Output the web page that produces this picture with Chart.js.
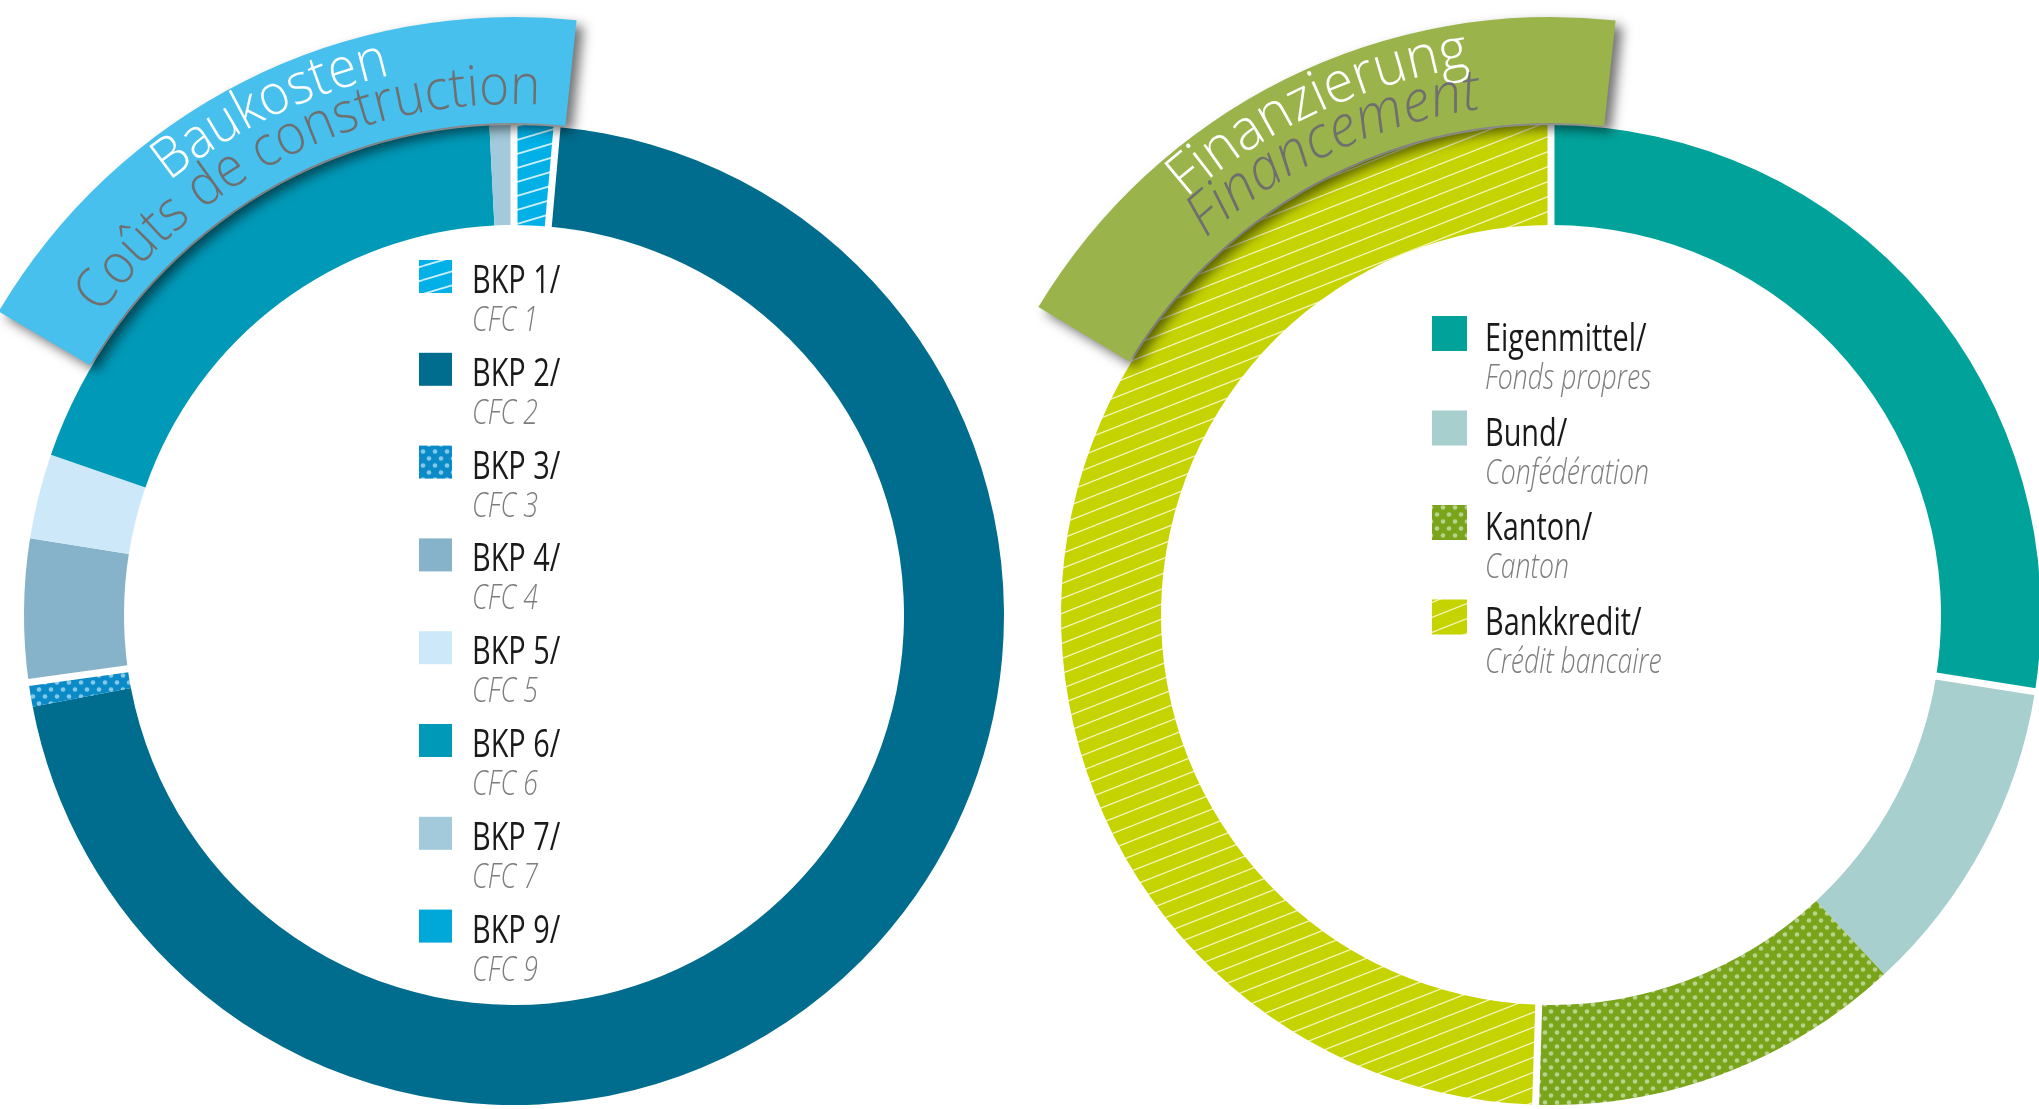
<!DOCTYPE html>
<html>
<head>
<meta charset="utf-8">
<script src="https://cdn.jsdelivr.net/npm/chart.js"></script>
<style>
  html, body { margin: 0; padding: 0; background: #fff; overflow: hidden; }
  #wrap { position: relative; width: 2039px; height: 1109px; overflow: hidden; }
  canvas { position: absolute; top: 0; }
  #baukosten { left: 0; }
  #finanzierung { left: 1020px; }
</style>
</head>
<body>
<div id="wrap">
  <canvas id="baukosten" width="1020" height="1109"></canvas>
  <canvas id="finanzierung" width="1024" height="1109"></canvas>
</div>
<script>
// Baukosten / Coûts de construction (Anteile in %)
const bkpLabels = ['BKP 1/', 'BKP 2/', 'BKP 3/', 'BKP 4/', 'BKP 5/', 'BKP 6/', 'BKP 7/', 'BKP 9/'];
const cfcLabels = ['CFC 1', 'CFC 2', 'CFC 3', 'CFC 4', 'CFC 5', 'CFC 6', 'CFC 7', 'CFC 9'];
const bkpWerte = [1.4, 70.6, 0.8, 4.7, 2.8, 18.9, 0.8, 0];

// Finanzierung / Financement (Anteile in %)
const finLabels = ['Eigenmittel/', 'Bund/', 'Kanton/', 'Bankkredit/'];
const finLabelsFr = ['Fonds propres', 'Confédération', 'Canton', 'Crédit bancaire'];
const finWerte = [27.5, 10.6, 12.4, 49.5];

// Titel auf den Bändern
const titelBau = ['Baukosten', 'Coûts de construction'];
const titelFin = ['Finanzierung', 'Financement'];

// Muster für schraffierte und gepunktete Segmente
function schraffur(grund, linie, h, steigung, lw) {
  const w = Math.round(h / steigung);
  const c = document.createElement('canvas');
  c.width = w; c.height = h;
  const g = c.getContext('2d');
  g.fillStyle = grund; g.fillRect(0, 0, w, h);
  g.strokeStyle = linie; g.lineWidth = lw;
  for (let k = -1; k <= 1; k++) {
    g.beginPath();
    g.moveTo(0, h + k * h);
    g.lineTo(w, k * h);
    g.stroke();
  }
  return g.createPattern(c, 'repeat');
}

function punkte(grund, punkt) {
  const c = document.createElement('canvas');
  c.width = 12; c.height = 14;
  const g = c.getContext('2d');
  g.fillStyle = grund; g.fillRect(0, 0, 12, 14);
  g.fillStyle = punkt;
  [[3, 3.5], [9, 10.5]].forEach(([x, y]) => {
    g.beginPath(); g.arc(x, y, 2.3, 0, Math.PI * 2); g.fill();
  });
  return g.createPattern(c, 'repeat');
}

const bkpFarben = [
  schraffur('#00b0e6', 'rgba(255,255,255,0.8)', 14, 0.3, 1.8),
  '#006c8e',
  punkte('#0a8bc8', '#86c8e8'),
  '#86b3c9',
  '#cde9f9',
  '#0099b8',
  '#a2cadb',
  '#00a8d9'
];
const finFarben = [
  '#00a29a',
  '#a6cfcd',
  punkte('#7aa51a', '#b8d28f'),
  schraffur('#c5d300', 'rgba(250,250,215,0.85)', 15, 0.39, 1.3)
];

const rad = d => (d - 90) * Math.PI / 180;

// Text entlang eines Kreisbogens
function bogenText(ctx, cx, cy, text, r, startGrad, font, farbe, sx) {
  ctx.save();
  ctx.font = font;
  ctx.fillStyle = farbe;
  ctx.textAlign = 'center';
  ctx.textBaseline = 'alphabetic';
  let a = startGrad * Math.PI / 180;
  for (const ch of text) {
    const w = ctx.measureText(ch).width * sx;
    ctx.save();
    ctx.translate(cx, cy);
    ctx.rotate(a + w / 2 / r);
    ctx.translate(0, -r);
    ctx.scale(sx, 1);
    ctx.fillText(ch, 0, 0);
    ctx.restore();
    a += w / r;
  }
  ctx.restore();
}

function ringDeko(cfg) {
  return {
    id: 'ringDeko',
    afterDatasetsDraw(chart) {
      const ctx = chart.ctx;
      const arcs = chart.getDatasetMeta(0).data;
      const cx = arcs[0].x, cy = arcs[0].y;
      const rIn = arcs[0].innerRadius, rOut = arcs[0].outerRadius;

      // weisse Fugen zwischen einzelnen Segmenten
      ctx.save();
      ctx.strokeStyle = '#fff';
      ctx.lineWidth = 7;
      cfg.fugen.forEach(i => {
        const a = arcs[i].startAngle;
        ctx.beginPath();
        ctx.moveTo(cx + Math.cos(a) * (rIn - 2), cy + Math.sin(a) * (rIn - 2));
        ctx.lineTo(cx + Math.cos(a) * (rOut + 2), cy + Math.sin(a) * (rOut + 2));
        ctx.stroke();
      });
      ctx.restore();

      // Titelband mit Schatten
      const r1 = rOut + 2, r2 = rOut + 108;
      ctx.save();
      ctx.shadowColor = 'rgba(0,0,0,0.55)';
      ctx.shadowBlur = 12;
      ctx.shadowOffsetX = 7;
      ctx.shadowOffsetY = 6;
      ctx.fillStyle = cfg.bandFarbe;
      ctx.beginPath();
      ctx.arc(cx, cy, r2, rad(cfg.bandVon), rad(cfg.bandBis));
      ctx.arc(cx, cy, r1, rad(cfg.bandBis), rad(cfg.bandVon), true);
      ctx.closePath();
      ctx.fill();
      ctx.restore();

      bogenText(ctx, cx, cy, cfg.titel[0], rOut + 64, cfg.start[0], cfg.font1, '#ffffff', cfg.sx[0]);
      bogenText(ctx, cx, cy, cfg.titel[1], rOut + 21, cfg.start[1], cfg.font2, '#6f6f6f', cfg.sx[1]);
    },
    afterDraw(chart) {
      const ctx = chart.ctx;
      const arc = chart.getDatasetMeta(0).data[0];
      const cx = arc.x, cy = arc.y;
      cfg.de.forEach((t, i) => {
        const y0 = cy + cfg.legY + i * cfg.legStep;
        ctx.fillStyle = cfg.farben[i];
        ctx.fillRect(cx + cfg.legX, y0, cfg.sw, cfg.sw);
        ctx.save();
        ctx.translate(cx + cfg.txtX, y0 + cfg.sw);
        ctx.scale(0.76, 1);
        ctx.textAlign = 'left';
        ctx.textBaseline = 'alphabetic';
        ctx.font = '38px "Open Sans"';
        ctx.fillStyle = '#1a1a1a';
        ctx.fillText(t, 0, 0);
        ctx.font = 'italic 300 35px "Open Sans"';
        ctx.fillStyle = '#7d7d7d';
        ctx.fillText(cfg.fr[i], 0, 38);
        ctx.restore();
      });
    }
  };
}

function ring(id, labels, werte, farben, padding, deko) {
  return new Chart(document.getElementById(id), {
    type: 'doughnut',
    data: {
      labels: labels,
      datasets: [{
        data: werte,
        backgroundColor: farben,
        borderWidth: 0
      }]
    },
    options: {
      responsive: false,
      animation: false,
      devicePixelRatio: 1,
      radius: 490,
      cutout: 390,
      layout: { padding: padding },
      plugins: {
        legend: { display: false },
        tooltip: { enabled: false }
      }
    },
    plugins: [deko]
  });
}

ring('baukosten', bkpLabels, bkpWerte, bkpFarben,
  { left: 24, right: 16, top: 125, bottom: 4 },
  ringDeko({
    fugen: [0, 1, 3],
    bandFarbe: '#47c0ee', bandVon: -59.5, bandBis: 6,
    titel: titelBau, start: [-38.5, -54], sx: [0.93, 0.915],
    font1: '300 56px "Open Sans"',
    font2: '300 56px "Open Sans"',
    de: bkpLabels, fr: cfcLabels, farben: bkpFarben,
    legX: -95, legY: -355, legStep: 92.8, sw: 33, txtX: -42
  }));

ring('finanzierung', finLabels, finWerte, finFarben,
  { left: 41, right: 3, top: 125, bottom: 4 },
  ringDeko({
    fugen: [0, 1, 3],
    bandFarbe: '#9ab44b', bandVon: -59, bandBis: 6.2,
    titel: titelFin, start: [-41.2, -42.5], sx: [0.965, 0.96],
    font1: '300 57px "Open Sans"',
    font2: 'italic 300 58px "Open Sans"',
    de: finLabels, fr: finLabelsFr, farben: finFarben,
    legX: -119, legY: -299, legStep: 94.5, sw: 35, txtX: -66
  }));
</script>
</body>
</html>
